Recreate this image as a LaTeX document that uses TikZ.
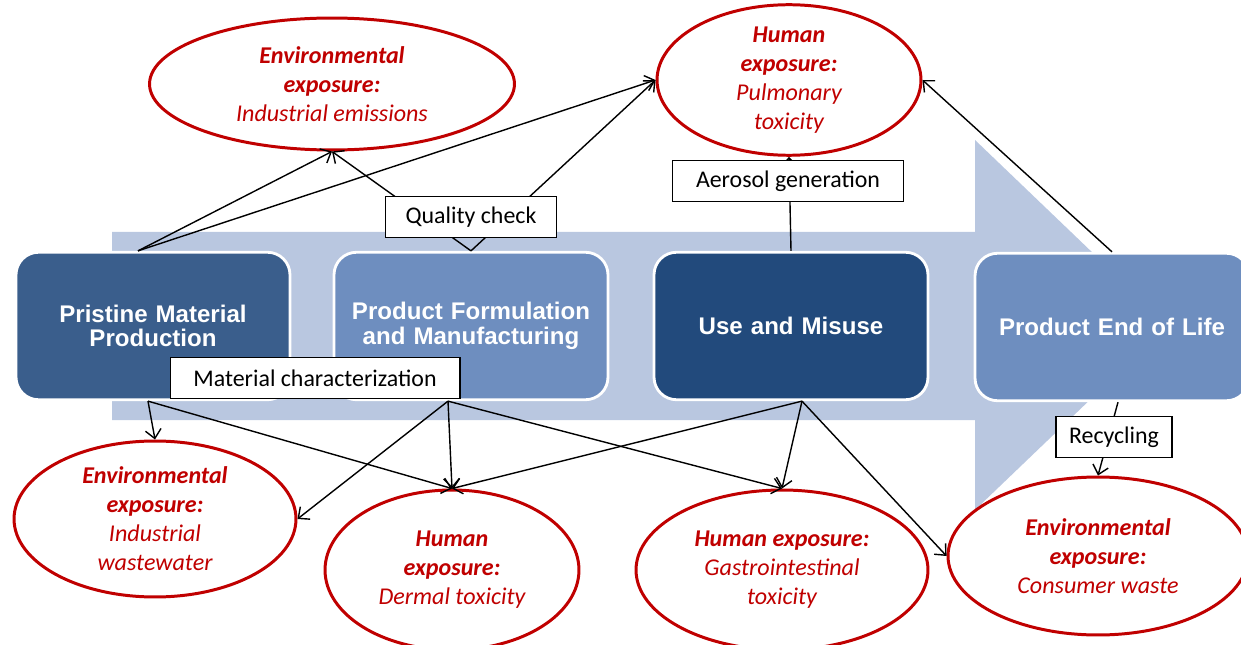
\documentclass[tikz,border=0pt]{standalone}
\usepackage{fontspec}
\setmainfont{Carlito}
\newfontfamily\arialfont{Liberation Sans}
\usepackage{xcolor}
\usetikzlibrary{arrows.meta,shapes.geometric,calc,positioning}

\definecolor{shaft}{HTML}{B9C7E0}
\definecolor{prisblue}{HTML}{3A5E8C}
\definecolor{formblue}{HTML}{6E8EBF}
\definecolor{useblue}{HTML}{224A7C}
\definecolor{expred}{HTML}{C00000}

\begin{document}
\begin{tikzpicture}[x=0.02cm,y=-0.02cm,->,>={Straight Barb[length=5pt,width=9pt]},line width=0.8pt]
  \tikzstyle{stage}=[draw=white, line width=1.6pt, rounded corners=0.45cm, minimum width=5.48cm, minimum height=2.95cm, text width=5.0cm, align=center, text=white, font=\arialfont\bfseries\fontsize{13.7}{14}\selectfont]
  \tikzstyle{expo}=[ellipse, draw=expred, line width=1.7pt, fill=white, text=expred, align=center, inner sep=0pt, font=\itshape\fontsize{13.7}{16.5}\selectfont]
  \tikzstyle{lab}=[draw=black, line width=0.6pt, fill=white, font=\fontsize{13.6}{15}\selectfont, minimum height=0.82cm, inner sep=2pt]

  \useasboundingbox (0,0) rectangle (1241,645);

  % big background arrow
  \fill[-, shaft] (112,232) -- (975,232) -- (975,140) -- (1168,325) -- (975,510) -- (975,420) -- (112,420) -- cycle;

  % life cycle stages
  \node[stage, fill=prisblue] (P) at (153,326) {Pristine Material\\Production};
  \node[stage, fill=formblue] (F) at (471,326) {Product Formulation\\and Manufacturing};
  \node[stage, fill=useblue]  (U) at (791,326) {Use and Misuse};
  \node[stage, fill=formblue] (L) at (1112,327) {Product End of Life};

  % exposures
  \node[expo, minimum width=7.3cm, minimum height=2.64cm] (EI) at (332,84) {\textbf{Environmental}\\\textbf{exposure:}\\Industrial emissions};
  \node[expo, minimum width=5.28cm, minimum height=2.6cm] (HP) at (789,80) {\textbf{Human}\\\textbf{exposure:}\\Pulmonary\\toxicity};
  \node[expo, minimum width=5.64cm, minimum height=3.12cm] (EW) at (155,519) {\textbf{Environmental}\\\textbf{exposure:}\\Industrial\\wastewater};
  \node[expo, minimum width=5.08cm, minimum height=3.2cm] (HD) at (452,570) {\textbf{Human}\\\textbf{exposure:}\\Dermal toxicity};
  \node[expo, minimum width=5.84cm, minimum height=3.2cm] (HG) at (782,570) {\textbf{Human exposure:}\\Gastrointestinal\\toxicity};
  \node[expo, minimum width=6.0cm, minimum height=3.16cm] (EC) at (1098,556) {\textbf{Environmental}\\\textbf{exposure:}\\Consumer waste};

  \coordinate (Pt) at ($(P.north)+(-15,0)$);
  \coordinate (Pb) at ($(P.south)+(-5,0)$);
  \coordinate (Fb) at ($(F.south)+(-23,0)$);
  \coordinate (Ub) at ($(U.south)+(11,0)$);
  \coordinate (Lb) at ($(L.south)+(6,0)$);

  \path
    (Pt) edge (EI.south)
    (Pt) edge (HP.west)
    (F.north) edge (EI.south)
    (F.north) edge (HP.west)
    (U.north) edge (HP.south)
    (L.north) edge (HP.east)
    (Pb) edge (EW.north)
    (Pb) edge (HD.north)
    (Fb) edge (EW.east)
    (Fb) edge (HD.north)
    (Fb) edge (HG.north)
    (Ub) edge (HD.north)
    (Ub) edge (HG.north)
    (Ub) edge (EC.west)
    (Lb) edge (EC.north);

  % process labels
  \node[lab, minimum width=3.42cm] (QC) at (471,217) {Quality check};
  \node[lab, minimum width=4.62cm] (AG) at (788,181) {Aerosol generation};
  \node[lab, minimum width=5.8cm]  (MC) at (315,378) {Material characterization};
  \node[lab, minimum width=2.32cm] (RC) at (1114,437) {Recycling};
\end{tikzpicture}
\end{document}
